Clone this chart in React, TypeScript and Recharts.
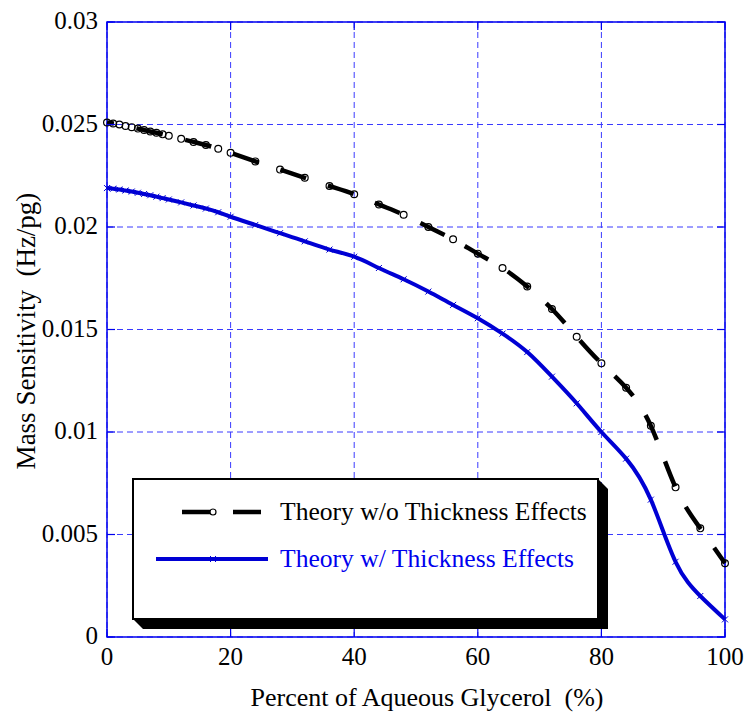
import React from "react";
import {
  LineChart,
  Line,
  XAxis,
  YAxis,
  CartesianGrid,
  ReferenceArea,
  Legend,
} from "recharts";

// percent of aqueous glycerol (x values shared by both curves)
const glycerolPct = [
  0, 1, 2, 3, 4, 5, 6, 7, 8, 9, 10, 12, 14, 16, 18, 20, 24, 28, 32, 36, 40, 44,
  48, 52, 56, 60, 64, 68, 72, 76, 80, 84, 88, 92, 96, 100,
];

// mass sensitivity (Hz/pg), theory without thickness effects
const noThickness = [
  0.0251, 0.02505, 0.025, 0.02493, 0.02487, 0.0248, 0.02473, 0.02466, 0.0246,
  0.02452, 0.02445, 0.0243, 0.02415, 0.024, 0.02382, 0.02362, 0.0232, 0.0228,
  0.0224, 0.022, 0.0216, 0.0211, 0.0206, 0.02, 0.0194, 0.0187, 0.018, 0.0171,
  0.016, 0.01465, 0.01335, 0.01216, 0.0103, 0.0073, 0.0053, 0.0036,
];

// mass sensitivity (Hz/pg), theory with thickness effects
const withThickness = [
  0.0219, 0.02187, 0.02183, 0.02178, 0.02173, 0.02167, 0.02161, 0.02155,
  0.02148, 0.02141, 0.02134, 0.0212, 0.02105, 0.0209, 0.02072, 0.0205, 0.0201,
  0.0197, 0.0193, 0.0189, 0.01855, 0.018, 0.01745, 0.01685, 0.0162, 0.01555,
  0.0148, 0.0139, 0.0127, 0.0114, 0.01, 0.0087, 0.0067, 0.00367, 0.002,
  0.00086,
];

const xTicks = [0, 20, 40, 60, 80, 100];
const yTicks = [0, 0.005, 0.01, 0.015, 0.02, 0.025, 0.03];

const seriesNames = [
  "Theory w/o Thickness Effects",
  "Theory w/ Thickness Effects",
];

const data = glycerolPct.map((x, i) => ({
  x,
  noThick: noThickness[i],
  thick: withThickness[i],
}));

const FONT = "'Liberation Serif', 'Times New Roman', Times, serif";
const BLUE = "#0000ee";
const LINE_BLUE = "#0000d4";

// plot box (used only for inner tick marks)
const PLOT_L = 107;
const PLOT_R = 725;
const PLOT_T = 22;
const PLOT_B = 637;
const TICK_LEN = 8;

const txt = { fontFamily: FONT };

const XTick = (props: any) => {
  const { x, payload } = props;
  return (
    <g>
      <line x1={x} x2={x} y1={PLOT_B} y2={PLOT_B - TICK_LEN} stroke={BLUE} strokeWidth={1.2} />
      <line x1={x} x2={x} y1={PLOT_T} y2={PLOT_T + TICK_LEN} stroke={BLUE} strokeWidth={1.2} />
      <text x={x} y={PLOT_B + 28} textAnchor="middle" style={txt} fontSize={25} fill="#000">
        {payload.value}
      </text>
    </g>
  );
};

const YTick = (props: any) => {
  const { y, payload } = props;
  return (
    <g>
      <line x1={PLOT_L} x2={PLOT_L + TICK_LEN} y1={y} y2={y} stroke={BLUE} strokeWidth={1.2} />
      <line x1={PLOT_R} x2={PLOT_R - TICK_LEN} y1={y} y2={y} stroke={BLUE} strokeWidth={1.2} />
      <text x={PLOT_L - 9} y={y + 7} textAnchor="end" style={txt} fontSize={25} fill="#000">
        {String(payload.value)}
      </text>
    </g>
  );
};

const XTitle = (props: any) => {
  const { viewBox } = props;
  return (
    <text
      x={viewBox.x + viewBox.width / 2 + 11}
      y={viewBox.y + 69}
      textAnchor="middle"
      fontSize={26}
      fill="#000"
      style={{ ...txt, whiteSpace: "pre" }}
    >
      {"Percent of Aqueous Glycerol  (%)"}
    </text>
  );
};

const YTitle = (props: any) => {
  const { viewBox } = props;
  const cx = viewBox.x + 35;
  const cy = viewBox.y + viewBox.height / 2 + 1.5;
  return (
    <text
      x={cx}
      y={cy}
      transform={`rotate(-90, ${cx}, ${cy})`}
      textAnchor="middle"
      fontSize={27}
      fill="#000"
      style={{ ...txt, whiteSpace: "pre" }}
    >
      {"Mass Sensitivity  (Hz/pg)"}
    </text>
  );
};

const CircleDot = (props: any) => {
  const { cx, cy } = props;
  if (cx == null || cy == null) return <g />;
  return <circle cx={cx} cy={cy} r={3.4} fill="none" stroke="#000" strokeWidth={1.2} />;
};

const CrossDot = (props: any) => {
  const { cx, cy } = props;
  if (cx == null || cy == null) return <g />;
  const s = 3;
  return (
    <g stroke={LINE_BLUE} strokeWidth={1}>
      <line x1={cx - s} y1={cy - s} x2={cx + s} y2={cy + s} />
      <line x1={cx - s} y1={cy + s} x2={cx + s} y2={cy - s} />
    </g>
  );
};

const LegendBox = () => {
  const L = 5;
  const T = 5;
  const R = 470;
  const B = 145;
  const d = 10;
  return (
    <svg width={490} height={165} style={{ display: "block" }}>
      <polygon
        points={`${R},${T} ${R + d},${T + d} ${R + d},${B + d} ${L + d},${B + d} ${L},${B}`}
        fill="#000"
      />
      <rect x={L} y={T} width={R - L} height={B - T} fill="#fff" stroke="#000" strokeWidth={2} />
      {/* row 1 */}
      <line x1={54} x2={134} y1={38} y2={38} stroke="#000" strokeWidth={4.5} strokeDasharray="28 23" />
      <circle cx={85} cy={38} r={3} fill="#fff" stroke="#000" strokeWidth={1.2} />
      <text x={152} y={46} style={txt} fontSize={25.6} fill="#000">
        {seriesNames[0]}
      </text>
      {/* row 2 */}
      <line x1={28} x2={140} y1={85} y2={85} stroke={LINE_BLUE} strokeWidth={4} />
      <CrossDot cx={85} cy={85} />
      <text x={152} y={93} style={txt} fontSize={25.6} fill={BLUE}>
        {seriesNames[1]}
      </text>
    </svg>
  );
};

export default function App() {
  return (
    <div
      style={{
        position: "absolute",
        left: 0,
        top: 0,
        width: 746,
        height: 712,
        background: "#fff",
      }}
    >
      <LineChart
        width={746}
        height={712}
        data={data}
        margin={{ top: 22, right: 21, bottom: 0, left: 0 }}
      >
        <CartesianGrid stroke="#3a3aff" strokeDasharray="6 4" strokeWidth={1} />
        <XAxis
          dataKey="x"
          type="number"
          domain={[0, 100]}
          ticks={xTicks}
          height={75}
          axisLine={false}
          tickLine={false}
          tickSize={0}
          tickMargin={0}
          tick={<XTick />}
          label={<XTitle />}
        />
        <YAxis
          type="number"
          domain={[0, 0.03]}
          ticks={yTicks}
          width={107}
          axisLine={false}
          tickLine={false}
          tickSize={0}
          tickMargin={0}
          tick={<YTick />}
          label={<YTitle />}
        />
        <ReferenceArea
          x1={0}
          x2={100}
          y1={0}
          y2={0.03}
          fill="none"
          fillOpacity={0}
          stroke={BLUE}
          strokeWidth={1.5}
        />
        <Legend
          verticalAlign="middle"
          layout="horizontal"
          align="center"
          wrapperStyle={{ left: 128, top: 474, width: 490, height: 165 }}
          content={() => <LegendBox />}
        />
        <Line
          type="natural"
          dataKey="noThick"
          name={seriesNames[0]}
          stroke="#000"
          strokeWidth={4.5}
          strokeDasharray="27 23"
          strokeDashoffset={20}
          dot={<CircleDot />}
          activeDot={false}
          isAnimationActive={false}
        />
        <Line
          type="natural"
          dataKey="thick"
          name={seriesNames[1]}
          stroke={LINE_BLUE}
          strokeWidth={4}
          dot={<CrossDot />}
          activeDot={false}
          isAnimationActive={false}
        />
      </LineChart>
    </div>
  );
}
